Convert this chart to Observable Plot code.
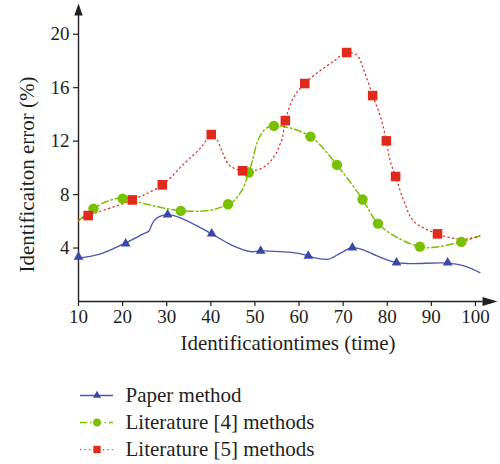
<!DOCTYPE html>
<html><head><meta charset="utf-8">
<script src="https://cdn.jsdelivr.net/npm/d3@7"></script>
<script src="https://cdn.jsdelivr.net/npm/@observablehq/plot@0.6"></script>
<style>
body{margin:0;background:#fff;}
#chart svg{display:block;}
</style></head><body><div id="chart"></div>
<script>
// ---- data ----
const xTicks = [10, 20, 30, 40, 50, 60, 70, 80, 90, 100];
const yTicks = [4, 8, 12, 16, 20];
const xTitle = "Identificationtimes (time)";
const yTitle = "Identificaiton error (%)";
const seriesNames = ["Paper method", "Literature [4] methods", "Literature [5] methods"];

// Paper method: curve trace and marker points
const paperLineX = [10, 15, 20.2, 24.7, 26.0, 26.5, 27.1, 28.2, 30.2, 33.1, 37.7, 40.2, 45.1, 49, 51.3, 55.8, 59.6, 62.1, 64.1, 66.7, 69.4, 72.1, 74.7, 77.7, 82.1, 85.3, 93.7, 97.4, 101];
const paperLineY = [3.25, 3.56, 4.31, 5.06, 5.28, 5.65, 6.03, 6.33, 6.5, 6.26, 5.51, 5.06, 4.16, 3.73, 3.79, 3.73, 3.62, 3.41, 3.24, 3.17, 3.62, 4.03, 3.84, 3.41, 2.91, 2.84, 2.87, 2.66, 2.16];
const paperX = [10, 20.7, 30.2, 40.2, 51.3, 62.1, 72.1, 82.1, 93.7];
const paperY = [3.34, 4.33, 6.5, 5.08, 3.79, 3.41, 4.03, 2.91, 2.91];

// Literature [4]
const lit4LineX = [10, 13.4, 16.5, 20, 22.5, 27.8, 33.2, 39.9, 43.9, 45.1, 47.1, 48.6, 49.4, 50.5, 51.5, 52.8, 54.3, 56.5, 62.6, 68.6, 74.4, 77.9, 83, 87.4, 89.8, 96.8, 101];
const lit4LineY = [6.03, 6.95, 7.5, 7.75, 7.53, 7.1, 6.8, 6.83, 7.28, 7.5, 8.35, 9.65, 10.5, 11.9, 12.57, 13.02, 13.14, 13.1, 12.34, 10.22, 7.63, 5.83, 4.66, 4.11, 4.03, 4.46, 4.91];
const lit4X = [13.4, 20.0, 33.2, 43.9, 48.6, 54.3, 62.6, 68.6, 74.4, 77.9, 87.4, 96.8];
const lit4Y = [6.95, 7.70, 6.78, 7.28, 9.65, 13.14, 12.34, 10.22, 7.63, 5.83, 4.11, 4.46];

// Literature [5]
const lit5LineX = [10, 12.2, 22.2, 29.0, 33.9, 37.7, 40.1, 41.4, 42.6, 43.9, 45.1, 47.2, 49, 50.8, 52.2, 53.3, 54.2, 55.0, 55.6, 56.2, 56.9, 58.8, 61.3, 64.1, 67.9, 70.8, 73.2, 74.7, 76.7, 78.5, 79.8, 80.7, 81.9, 83.8, 86.0, 91.4, 94.3, 97.4, 101];
const lit5LineY = [6.1, 6.43, 7.6, 8.73, 10.3, 11.5, 12.49, 12.1, 11.2, 10.3, 10.0, 9.78, 9.8, 9.87, 10.1, 10.4, 10.8, 11.2, 11.7, 12.2, 13.54, 15.3, 16.31, 17.1, 18.0, 18.63, 18.4, 17.3, 15.41, 13.8, 12.02, 10.5, 9.35, 7.5, 6.0, 5.06, 4.78, 4.66, 4.91];
const lit5X = [12.2, 22.2, 29.0, 40.1, 47.2, 56.9, 61.3, 70.8, 76.7, 79.8, 81.9, 91.4];
const lit5Y = [6.43, 7.60, 8.73, 12.49, 9.78, 13.54, 16.31, 18.63, 15.41, 12.02, 9.35, 5.06];

// ---- styling ----
const font = "'Liberation Serif', 'DejaVu Serif', serif";
const ink = "#231f20";
const blue = "#3a47a6", blueLine = "#4a54b3";
const green = "#78c000";
const red = "#e02a1c";
const greenDash = "7,3,1.5,3";
const redDash = "1.2,3.4";

const pts = (xs, ys) => xs.map((x, i) => ({x, y: ys[i]}));

const main = Plot.plot({
  width: 500, height: 370,
  marginLeft: 78, marginRight: 3, marginTop: 7, marginBottom: 69,
  style: {fontFamily: font, color: ink, background: "white", overflow: "visible", fontSize: "19px"},
  x: {domain: [10, 105]},
  y: {domain: [0, 22]},
  marks: [
    Plot.axisY({ticks: yTicks, tickSize: 5, tickPadding: 4, label: null, stroke: ink, strokeWidth: 1.2, fill: ink, fontFamily: font}),
    Plot.axisX({ticks: xTicks, tickSize: 5, tickPadding: 3, label: null, stroke: ink, strokeWidth: 1.2, fill: ink, fontFamily: font}),
    Plot.ruleX([10], {y1: 0, y2: 21.5, stroke: ink, strokeWidth: 1.4}),
    Plot.ruleY([0], {x1: 10, x2: 101.7, stroke: ink, strokeWidth: 1.4}),
    Plot.vector([{x: 10, y: 21.4}], {x: "x", y: "y", shape: "spike", length: 12, r: 4.2, rotate: 0, anchor: "start", fill: ink, stroke: "none"}),
    Plot.vector([{x: 101.6, y: 0}], {x: "x", y: "y", shape: "spike", length: 15, r: 4.5, rotate: 90, anchor: "start", fill: ink, stroke: "none"}),
    Plot.line(pts(paperLineX, paperLineY), {x: "x", y: "y", stroke: blueLine, strokeWidth: 1.3, curve: "catmull-rom"}),
    Plot.line(pts(lit4LineX, lit4LineY), {x: "x", y: "y", stroke: green, strokeWidth: 1.5, strokeDasharray: greenDash, curve: "catmull-rom"}),
    Plot.line(pts(lit5LineX, lit5LineY), {x: "x", y: "y", stroke: red, strokeWidth: 1.25, strokeDasharray: redDash, curve: "catmull-rom"}),
    Plot.dot(pts(paperX, paperY), {x: "x", y: "y", symbol: "triangle", r: 3.6, fill: blue, stroke: "none"}),
    Plot.dot(pts(lit4X, lit4Y), {x: "x", y: "y", symbol: "circle", r: 5.2, fill: green, stroke: "none"}),
    Plot.dot(pts(lit5X, lit5Y), {x: "x", y: "y", symbol: "square", r: 5.4, fill: red, stroke: "none"}),
    Plot.text([xTitle], {frameAnchor: "bottom", dy: 48, fontSize: 21, fill: ink}),
    Plot.text([yTitle], {frameAnchor: "left", textAnchor: "middle", rotate: -90, dx: -51, dy: 20, fontSize: 21, fill: ink})
  ]
});

const legend = Plot.plot({
  width: 500, height: 94,
  marginLeft: 80, marginRight: 387, marginTop: 0, marginBottom: 0,
  style: {fontFamily: font, color: ink, background: "white", overflow: "visible"},
  x: {domain: [0, 1], axis: null},
  y: {type: "point", domain: seriesNames, range: [25, 79], padding: 0, axis: null},
  marks: [
    Plot.ruleY([seriesNames[0]], {y: d => d, stroke: blueLine, strokeWidth: 1.3}),
    Plot.ruleY([seriesNames[1]], {y: d => d, stroke: green, strokeWidth: 1.5, strokeDasharray: greenDash}),
    Plot.ruleY([seriesNames[2]], {y: d => d, stroke: red, strokeWidth: 1.25, strokeDasharray: redDash}),
    Plot.dot([seriesNames[0]], {y: d => d, symbol: "triangle", r: 3, fill: blue}),
    Plot.dot([seriesNames[1]], {y: d => d, symbol: "circle", r: 3.9, fill: green}),
    Plot.dot([seriesNames[2]], {y: d => d, symbol: "square", r: 4.1, fill: red}),
    Plot.text(seriesNames, {y: d => d, text: d => d, frameAnchor: "left", dx: 45, textAnchor: "start", fontSize: 21, fill: ink})
  ]
});

const el = document.getElementById("chart");
el.appendChild(main);
el.appendChild(legend);
</script>
</body></html>
